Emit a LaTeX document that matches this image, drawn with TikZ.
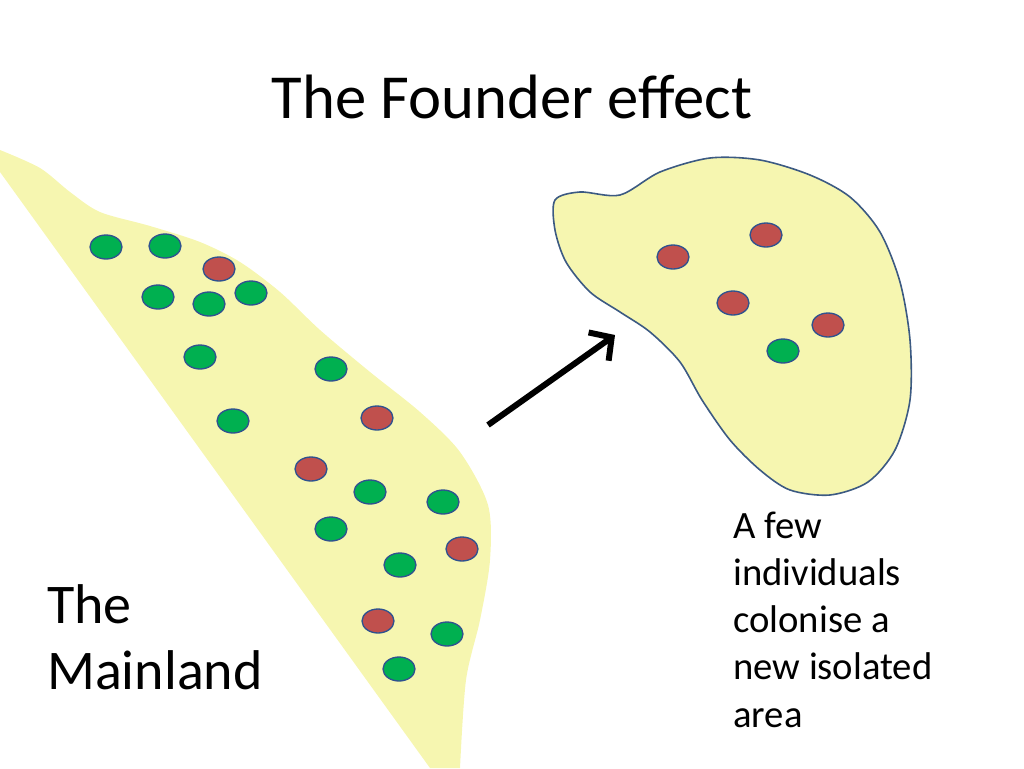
\documentclass[tikz,border=0pt]{standalone}
\usepackage{fontspec}
\setmainfont{Carlito}
\usetikzlibrary{shapes.geometric,arrows.meta}
\begin{document}
\begin{tikzpicture}[x=0.75pt,y=-0.75pt,
 gdot/.style={ellipse,minimum width=24pt,minimum height=18pt,inner sep=0pt,fill={rgb,255:red,0;green,176;blue,80},draw={rgb,255:red,47;green,82;blue,143},line width=1pt},
 rdot/.style={ellipse,minimum width=24pt,minimum height=18pt,inner sep=0pt,fill={rgb,255:red,192;green,80;blue,77},draw={rgb,255:red,47;green,82;blue,143},line width=1pt}]
\definecolor{land}{RGB}{246,246,176}
\definecolor{shore}{RGB}{60,90,130}
\useasboundingbox (0,0) rectangle (1024,768);
\fill[land] plot[smooth] coordinates{(0,150)(40,168)(70,192)(100,212)(150,226)(200,242)(240,262)(280,292)(320,330)(370,372)(420,412)(460,452)(488,505)(490,560)(480,620)(466,680)(460,768)} -- (430,768) -- (0,172) -- cycle;
\draw[shore,fill=land,line width=1.2pt] plot[smooth cycle] coordinates{(555,200)(580,192)(620,195)(660,172)(710,158)(760,160)(810,175)(850,197)(880,232)(900,282)(910,340)(910,400)(895,450)(868,482)(830,495)(790,490)(760,470)(730,440)(702,400)(680,362)(650,332)(620,312)(590,292)(566,262)(555,230)};
\foreach \p [count=\i] in {(106,247),(165,246),(158,297),(209,304),(251,293),(200,357),(331,369),(233,421),(370,492),(443,502),(331,529),(400,565),(447,634),(399,669),(783,351)}
 \node[gdot] (g\i) at \p {};
\foreach \p [count=\i] in {(219,269),(377,418),(311,469),(462,549),(378,621),(673,257),(766,235),(733,303),(828,325)}
 \node[rdot] (r\i) at \p {};
\coordinate (a1) at (488,425); \coordinate (a2) at (615,335);
\draw[line width=4.5pt,-{Straight Barb[length=12pt,width=26pt]}] (a1) -- (a2);
\node[font=\fontsize{47}{52}\selectfont] (title) at (512,97) {The Founder effect};
\node[anchor=west,align=left,inner sep=0pt,font=\fontsize{42}{49.5}\selectfont] (main) at (47,637) {The\\Mainland};
\node[anchor=north west,align=left,inner sep=0pt,font=\fontsize{29}{35.3}\selectfont] (few) at (733,512) {A few\\individuals\\colonise a\\new isolated\\area};
\end{tikzpicture}
\end{document}
